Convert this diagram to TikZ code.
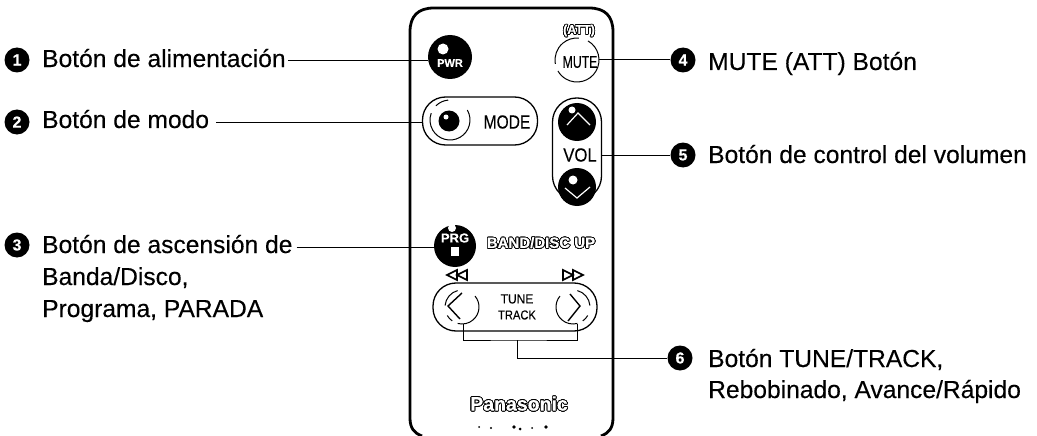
\documentclass[tikz,border=0pt]{standalone}
\usepackage{fontspec}
\usepackage{contour}
\setmainfont{Liberation Sans}[FakeBold=0.25]
\contourlength{0.8pt}
\usetikzlibrary{calc}
\tikzset{
    bullet/.style={circle,fill=black,text=white,inner sep=0pt,minimum size=25pt,font=\fontsize{16}{16}\selectfont\bfseries},
    caption/.style={anchor=west,inner sep=0pt,text height=17pt,text depth=5pt,font=\fontsize{24.6}{24.6}\selectfont},
    leader/.style={line width=1pt},
    blackbutton/.style={circle,fill=black,text=white,inner sep=0pt,minimum size=#1},
    pill/.style={draw,line width=1.3pt,rounded corners=23pt,inner sep=0pt},
    keytext/.style={inner sep=0pt,font=\fontsize{#1}{#1}\selectfont},
    ring/.style={line width=1pt},
}
\newcommand{\outlined}[1]{\contour{black}{\textcolor{white}{#1}}}
\begin{document}
\begin{tikzpicture}[x=1pt,y=-1pt]
            \useasboundingbox (0,0) rectangle (1037,436);
            \draw[line width=2.8pt] (422,436) .. controls (414,433) and (410,428) .. (410,418) -- (410,32)
                .. controls (410,16) and (418,8) .. (434,8) -- (589,8)
                .. controls (605,8) and (613,16) .. (613,32) -- (613,418)
                .. controls (613,428) and (609,433) .. (601,436);
            \node[blackbutton=44pt] (pwr) at (450,57) {};
            \node[blackbutton=42pt] (prg) at (455,246) {};
            \node[blackbutton=38pt] (volup) at (577,122) {};
            \node[blackbutton=38pt] (voldown) at (577,187) {};
            \node[circle,inner sep=0pt,minimum size=44pt] (mute) at (577,60) {};
            \node[pill,minimum width=115pt,minimum height=48pt] (mode) at (480,121) {};
            \node[pill,minimum width=49pt,minimum height=102pt,rounded corners=24pt] (vol) at (577,149) {};
            \node[pill,minimum width=164pt,minimum height=48pt] (tune) at (515,307) {};
            \node[circle,fill=black,inner sep=0pt,minimum size=21pt] (modedot) at (449,121) {};
            \fill[white] (446,117) circle (2.5pt);
            \fill[white] (443,49) circle (5.5pt);
            \fill[white] (452,228) circle (4pt);
            \fill[white] (572,110) circle (3.5pt);
            \fill[white] (573,180) circle (4.5pt);
            \fill[white] (451,247) rectangle (459,256);
            \draw[white,line width=1.2pt] (567,125) -- (578,113) -- (590,125);
            \draw[white,line width=1.2pt] (565,188) -- (577,198) -- (590,187);
            \node[keytext=11,text=white,font=\fontsize{11}{11}\selectfont\bfseries] (pwrtext) at (450,63) {PWR};
            \node[keytext=13,text=white,font=\fontsize{13}{13}\selectfont\bfseries] (prgtext) at (455,238) {PRG};
            \node[keytext=17] (mutetext) at (580,62) {\scalebox{0.72}[1]{MUTE}};
            \node[keytext=19] (modetext) at (507,122) {\scalebox{0.82}[1]{MODE}};
            \node[keytext=19] (voltext) at (580,155) {\scalebox{0.88}[1]{VOL}};
            \node[keytext=13] (tunetext) at (517,299) {\scalebox{0.92}[1]{TUNE}};
            \node[keytext=13] (tracktext) at (517,315) {\scalebox{0.86}[1]{TRACK}};
            \node[keytext=12.5,font=\fontsize{12.5}{12.5}\selectfont\bfseries] (atttext) at (579,31) {\outlined{(ATT)}};
            \node[keytext=15,font=\fontsize{15}{15}\selectfont\bfseries] (bandtext) at (541,243) {\outlined{BAND/DISC UP}};
            \node[keytext=19.5,font=\fontsize{19.5}{19.5}\selectfont\bfseries] (brandtext) at (519,404) {\outlined{Panasonic}};
            \draw[ring] (450,120) ++(-30:20) arc[start angle=-30,end angle=200,radius=20];
            \draw[ring] (450,120) ++(225:20) arc[start angle=225,end angle=265,radius=20];
            \draw[ring] (577,60) ++(-60:22) arc[start angle=-60,end angle=150,radius=22];
            \draw[ring] (577,60) ++(170:22) arc[start angle=170,end angle=275,radius=22];
            \draw[ring] (462,307) ++(-40:17) arc[start angle=-40,end angle=105,radius=17];
            \draw[ring] (462,307) ++(125:17) arc[start angle=125,end angle=150,radius=17];
            \draw[ring] (462,307) ++(185:17) arc[start angle=185,end angle=255,radius=17];
            \draw[ring] (573,307) ++(220:17) arc[start angle=220,end angle=75,radius=17];
            \draw[ring] (573,307) ++(55:17) arc[start angle=55,end angle=30,radius=17];
            \draw[ring] (573,307) ++(-5:17) arc[start angle=-5,end angle=-75,radius=17];
            \draw[line width=1.4pt] (462,293) -- (448,306) -- (460,319);
            \draw[line width=1.4pt] (570,294) -- (580,306) -- (568,321);
            \draw[line width=1.6pt] (447,275) -- (457,270) -- (457,280) -- cycle (457,275) -- (467,270) -- (467,280) -- cycle;
            \draw[line width=1.6pt] (583,275) -- (573,270) -- (573,280) -- cycle (573,275) -- (563,270) -- (563,280) -- cycle;
            \fill (479,427) circle (1pt) (491,428) circle (1.2pt) (514,427) circle (1.8pt) (520,429) circle (1.5pt) (532,428) circle (1pt) (546,427) circle (1.8pt);
            \node[bullet] (num1) at (17,60) {1};
            \node[bullet] (num2) at (17,122) {2};
            \node[bullet] (num3) at (17,245) {3};
            \node[bullet] (num4) at (683,60) {4};
            \node[bullet] (num5) at (683,155) {5};
            \node[bullet] (num6) at (680,358) {6};
            \node[caption] (text1) at (42,61) {Botón de alimentación};
            \node[caption] (text2) at (42,122) {Botón de modo};
            \node[caption] (text3) at (42,247) {Botón de ascensión de};
            \node[caption] (text3b) at (42,279) {Banda/Disco,};
            \node[caption] (text3c) at (42,311) {Programa, PARADA};
            \node[caption] (text4) at (708,64) {MUTE (ATT) Botón};
            \node[caption] (text5) at (708,157) {Botón de control del volumen};
            \node[caption] (text6) at (708,361) {Botón TUNE/TRACK,};
            \node[caption] (text6b) at (708,392) {Rebobinado, Avance/Rápido};
            \coordinate (tuneleft) at (463,324);
            \coordinate (tuneright) at (577,324);
            \coordinate (trackjoin) at (517,340);
            \draw[leader] (text1.east) ++(2,0) -- (text1.east -| pwr.west);
            \draw[leader] (text2.east) ++(7,0) -- (text2.east -| mode.west);
            \draw[leader] (text3.east) ++(4,0) -- (text3.east -| prg.west);
            \draw[leader] (mute) -- (num4);
            \draw[leader] (num5 -| vol.east) -- (num5);
            \draw[leader] (tuneleft) |- (trackjoin) -| (tuneright);
            \draw[leader] (trackjoin) |- (num6);
        \end{tikzpicture}
\end{document}
